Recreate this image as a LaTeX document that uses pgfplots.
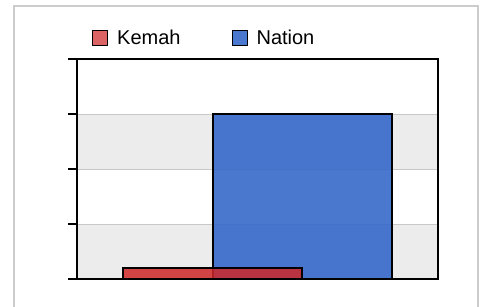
\documentclass[border=0pt]{standalone}
\usepackage{pgfplots}
\pgfplotsset{compat=1.18}
\usepackage{fontspec}
\setmainfont{Liberation Sans}
\definecolor{kemah}{RGB}{207,40,40}
\definecolor{nation}{RGB}{54,105,202}
\definecolor{band}{RGB}{236,236,236}
\definecolor{gridc}{RGB}{200,200,200}
\definecolor{framec}{RGB}{204,204,204}
\begin{document}
\begin{tikzpicture}
\draw[framec, line width=2pt] (14pt,-10pt) -- (14pt,300pt) -- (478pt,300pt) -- (478pt,-10pt);
\begin{axis}[
  at={(77pt,27pt)}, anchor=south west,
  scale only axis, width=361pt, height=220pt,
  xmin=0, xmax=361, ymin=0, ymax=4,
  xtick=\empty, ytick={0,1,2,3,4}, yticklabels={},
  ytick pos=left, tick align=outside, major tick length=9pt,
  ymajorgrids, grid style={gridc, line width=1pt},
  axis line style={black, line width=1.5pt},
  every tick/.style={black, line width=1.5pt},
  set layers,
  reverse legend,
  legend columns=-1,
  legend style={at={(0.04155,1.0955)}, anchor=west, draw=none, fill=none,
    inner sep=0pt, nodes={inner sep=0pt, text=black},
    font=\fontsize{20}{24}\selectfont,
    /tikz/every even column/.append style={column sep=51pt},
    /tikz/every odd column/.append style={column sep=9pt}},
]
\begin{pgfonlayer}{axis background}
\fill[band] (axis cs:0,0) rectangle (axis cs:361,1);
\fill[band] (axis cs:0,2) rectangle (axis cs:361,3);
\end{pgfonlayer}
\addplot[ybar, bar shift=0pt, bar width=179pt, draw=black, line width=1.3pt,
  fill=nation, fill opacity=0.9,
  legend image code/.code={\draw[fill=nation, draw=black, line width=1pt] (0pt,-7.5pt) rectangle (15pt,7.5pt);}]
  coordinates {(225.5,3)};
\addlegendentry{Nation}
\addplot[ybar, bar shift=0pt, bar width=179pt, draw=black, line width=1.3pt,
  fill=kemah, fill opacity=0.85,
  legend image code/.code={\draw[fill=kemah!85!white, draw=black, line width=1pt] (0pt,-7.5pt) rectangle (15pt,7.5pt);}]
  coordinates {(135.5,0.2)};
\addlegendentry{Kemah}
\end{axis}
\pgfresetboundingbox
\path[use as bounding box] (0,0) rectangle (482pt,306pt);
\end{tikzpicture}
\end{document}
